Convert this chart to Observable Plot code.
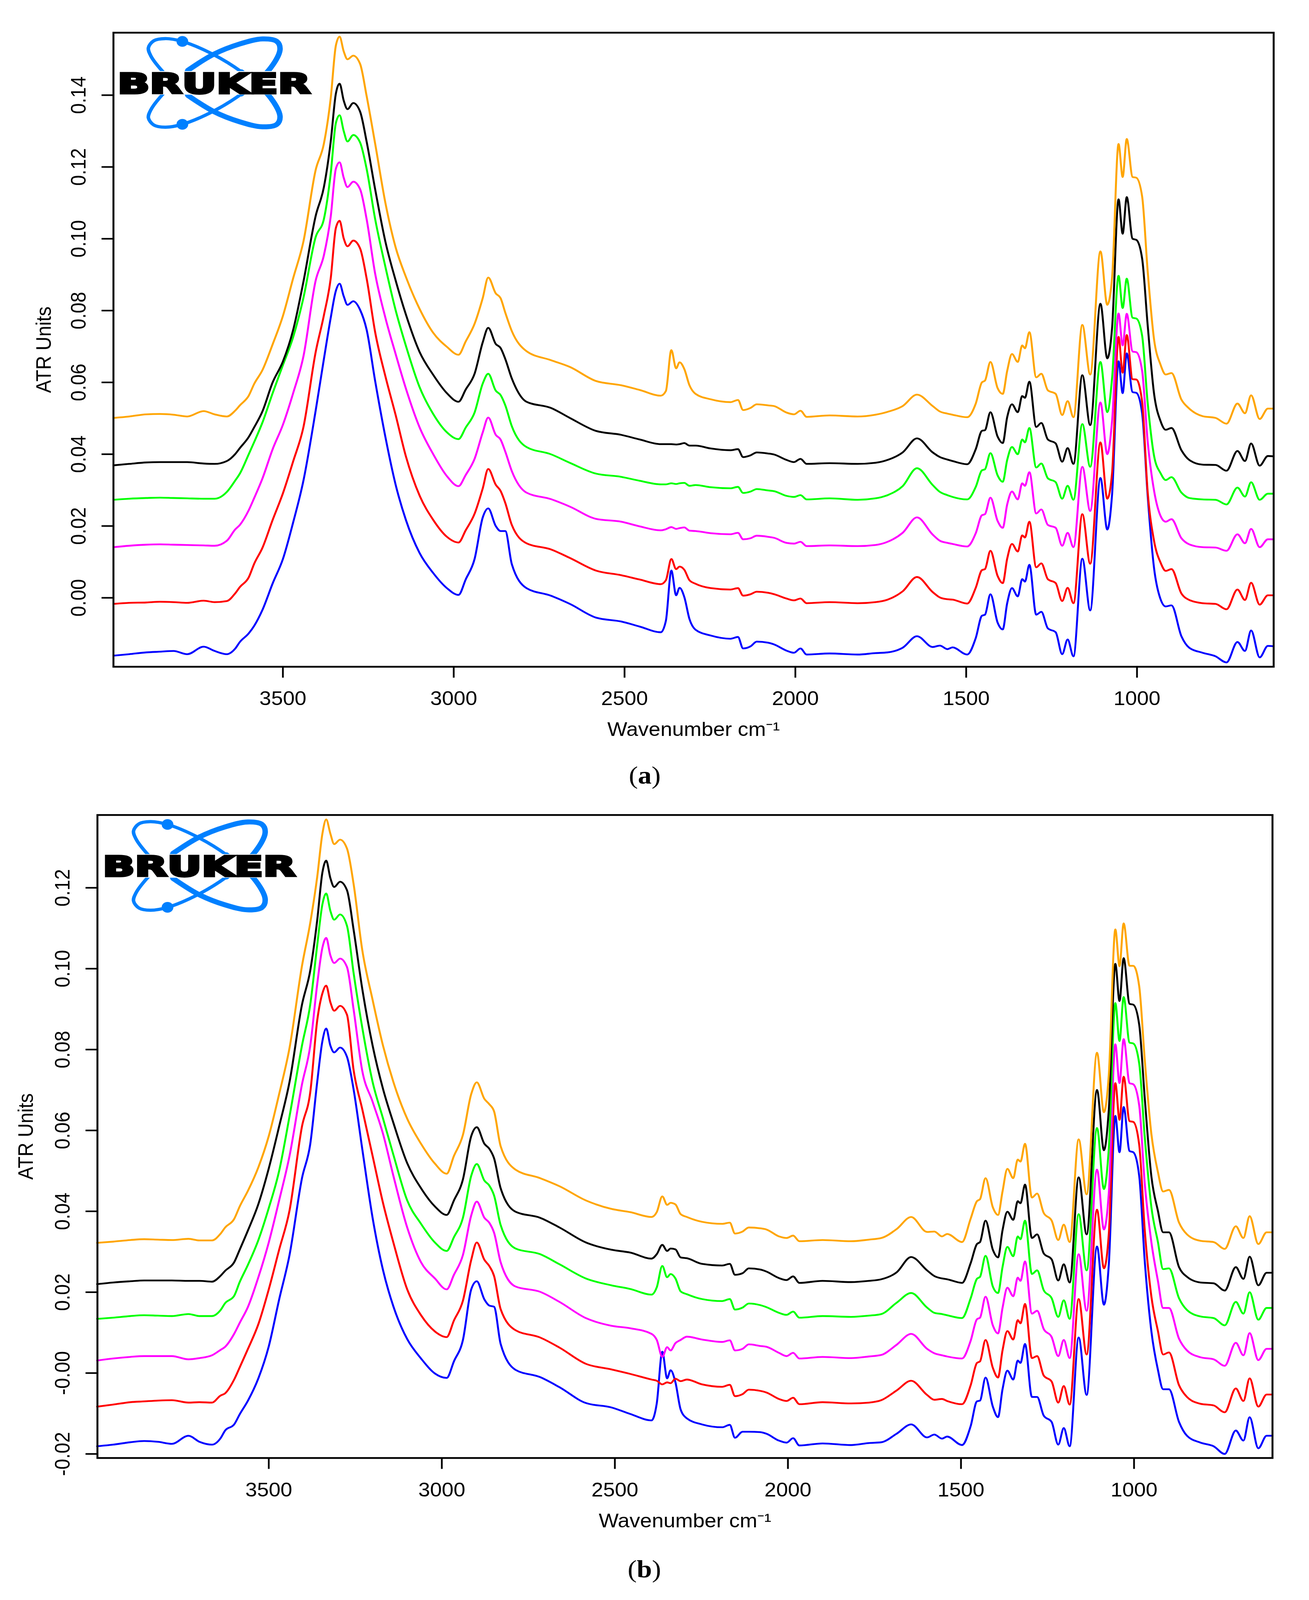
<!DOCTYPE html>
<html><head><meta charset="utf-8">
<script src="https://cdn.jsdelivr.net/npm/d3@7"></script>
<script src="https://cdn.jsdelivr.net/npm/@observablehq/plot@0.6"></script>
<style>
html,body{margin:0;padding:0;background:#fff;overflow:hidden}
#page{position:relative;width:3352px;height:4479px;overflow:hidden;background:#fff;transform-origin:0 0}
#page svg{display:block}
.panel{position:absolute;left:0}
.cap{position:absolute;font-family:"Liberation Serif",serif;font-size:70px;line-height:1;transform:translate(-50%,-50%);color:#000}
</style></head><body><div id="page"></div>
<script>
const wavenumbers=[3996,3950,3900,3860,3820,3780,3732,3700,3664,3640,3626,3600,3584,3560,3530,3500,3470,3440,3404,3380,3360,3345,3334,3322,3311,3294,3274,3255,3230,3200,3170,3140,3100,3060,3020,2986,2965,2939,2915,2899,2877,2863,2849,2830,2787,2716,2660,2584,
2510,2456,2394,2379,2363,2349,2339,2325,2310,2292,2248,2190,2168,2153,2131,2113,2080,2062,2026,2004,1985,1967,1900,1818,1766,1730,1686,1644,1598,1577,1555,1540,1497,
1472,1454,1445,1429,1408,1393,1380,1366,1349,1336,1328,1315,1295,1280,1261,1238,1219,1203,1186,1160,1137,1107,1087,1073,1054,1042,1030,1013,1002,985,969,950,931,916,899,870,847,808,770,738,706,684,666,641,617,600];

const aOrange=[.0501,.0505,.0511,.0512,.0510,.0505,.0520,.0511,.0505,.0521,.0536,.0563,.0596,.0634,.0706,.0785,.0890,.0992,.1192,.1265,.1392,.1538,.1563,.1522,.1500,.1510,.1487,.1398,.1265,.1100,.0976,.0894,.0805,.0738,.0699,.0677,.0714,.0763,.0835,.0892,.0848,.0835,.0794,.0743,.0687,.0662,.0643,.0604,
.0592,.0579,.0563,.0576,.0690,.0639,.0656,.0637,.0592,.0568,.0553,.0545,.0551,.0523,.0529,.0539,.0536,.0534,.0516,.0511,.0521,.0504,.0508,.0505,.0510,.0518,.0534,.0566,.0534,.0519,.0513,.0510,.0503,
.0541,.0600,.0605,.0657,.0584,.0568,.0632,.0679,.0657,.0703,.0695,.0740,.0614,.0624,.0578,.0568,.0509,.0548,.0503,.0760,.0622,.0965,.0816,.0891,.1264,.1172,.1278,.1172,.1170,.1118,.0913,.0719,.0649,.0622,.0626,.0552,.0527,.0506,.0501,.0485,.0541,.0514,.0564,.0498,.0527,.0527];
const aBlack=[.0369,.0373,.0377,.0378,.0378,.0378,.0374,.0373,.0381,.0400,.0417,.0448,.0475,.0519,.0600,.0658,.0746,.0880,.1064,.1144,.1271,.1404,.1432,.1385,.1361,.1378,.1354,.1271,.1138,.0992,.0884,.0789,.0685,.0621,.0570,.0546,.0580,.0624,.0712,.0752,.0707,.0696,.0665,.0611,.0546,.0529,.0501,.0465,
.0454,.0441,.0428,.0428,.0428,.0427,.0428,.0431,.0424,.0424,.0416,.0411,.0414,.0392,.0397,.0405,.0402,.0399,.0384,.0378,.0387,.0373,.0375,.0373,.0376,.0384,.0405,.0444,.0405,.0392,.0385,.0381,.0372,
.0414,.0465,.0467,.0517,.0449,.0431,.0503,.0539,.0517,.0562,.0557,.0602,.0476,.0487,.0441,.0430,.0379,.0417,.0373,.0620,.0481,.0819,.0667,.0751,.1110,.1014,.1116,.1000,.0997,.0945,.0762,.0568,.0492,.0468,.0473,.0411,.0384,.0371,.0370,.0354,.0409,.0381,.0430,.0368,.0395,.0394];
const aGreen=[.0273,.0276,.0278,.0279,.0278,.0277,.0276,.0276,.0295,.0326,.0346,.0400,.0434,.0488,.0570,.0648,.0726,.0835,.1005,.1055,.1182,.1322,.1344,.1300,.1271,.1289,.1268,.1195,.1055,.0922,.0801,.0702,.0587,.0512,.0461,.0442,.0474,.0516,.0597,.0624,.0577,.0565,.0536,.0478,.0420,.0400,.0376,.0346,
.0337,.0326,.0316,.0316,.0319,.0317,.0319,.0320,.0312,.0314,.0308,.0305,.0309,.0292,.0296,.0303,.0299,.0297,.0284,.0281,.0286,.0274,.0277,.0273,.0277,.0286,.0311,.0361,.0314,.0295,.0286,.0281,.0274,
.0309,.0355,.0358,.0403,.0341,.0323,.0384,.0420,.0400,.0441,.0433,.0473,.0363,.0374,.0333,.0322,.0276,.0312,.0273,.0484,.0365,.0657,.0517,.0611,.0897,.0807,.0889,.0780,.0778,.0730,.0546,.0395,.0347,.0328,.0336,.0293,.0278,.0274,.0273,.0260,.0307,.0282,.0322,.0273,.0290,.0290];
const aMagenta=[.0141,.0145,.0148,.0149,.0148,.0147,.0146,.0145,.0159,.0190,.0203,.0244,.0278,.0332,.0414,.0482,.0570,.0672,.0884,.0954,.1062,.1195,.1213,.1170,.1144,.1159,.1138,.1055,.0903,.0780,.0679,.0583,.0475,.0400,.0339,.0311,.0342,.0387,.0461,.0502,.0454,.0441,.0407,.0353,.0293,.0275,.0254,.0220,
.0212,.0199,.0188,.0191,.0197,.0192,.0194,.0196,.0187,.0186,.0180,.0177,.0181,.0163,.0166,.0173,.0170,.0167,.0153,.0151,.0156,.0144,.0146,.0144,.0147,.0156,.0181,.0224,.0176,.0159,.0153,.0150,.0143,
.0180,.0230,.0233,.0279,.0214,.0195,.0260,.0296,.0274,.0319,.0312,.0350,.0235,.0246,.0203,.0195,.0145,.0181,.0141,.0365,.0242,.0544,.0400,.0492,.0792,.0703,.0791,.0686,.0684,.0632,.0438,.0298,.0228,.0212,.0219,.0166,.0149,.0141,.0140,.0131,.0177,.0152,.0192,.0141,.0163,.0163];
const aRed=[-.0017,-.0014,-.0013,-.0011,-.0012,-.0014,-.0008,-.0012,-.0009,.0012,.0030,.0057,.0095,.0139,.0217,.0291,.0380,.0475,.0685,.0787,.0890,.1030,.1050,.1001,.0979,.0995,.0973,.0890,.0740,.0617,.0509,.0394,.0285,.0217,.0170,.0154,.0188,.0234,.0305,.0359,.0315,.0298,.0264,.0203,.0152,.0135,.0111,.0076,
.0063,.0051,.0038,.0049,.0108,.0080,.0087,.0078,.0049,.0039,.0027,.0023,.0027,.0006,.0010,.0017,.0014,.0010,-.0002,-.0007,-.0002,-.0015,-.0012,-.0015,-.0012,-.0005,.0018,.0058,.0016,.0001,-.0004,-.0005,-.0016,
.0028,.0077,.0080,.0131,.0061,.0041,.0109,.0150,.0129,.0174,.0168,.0212,.0085,.0096,.0052,.0041,-.0009,.0028,-.0015,.0233,.0095,.0433,.0276,.0347,.0727,.0627,.0732,.0609,.0608,.0546,.0298,.0158,.0098,.0075,.0080,.0012,-.0006,-.0015,-.0017,-.0032,.0023,-.0006,.0042,-.0019,.0007,.0007];
const aBlue=[-.0161,-.0157,-.0152,-.0150,-.0148,-.0157,-.0136,-.0148,-.0157,-.0142,-.0123,-.0099,-.0078,-.0034,.0040,.0108,.0210,.0326,.0522,.0665,.0780,.0855,.0875,.0840,.0816,.0826,.0802,.0747,.0604,.0448,.0315,.0217,.0125,.0069,.0027,.0008,.0051,.0108,.0224,.0249,.0200,.0186,.0186,.0094,.0027,.0006,-.0017,-.0055,
-.0066,-.0080,-.0096,-.0064,.0076,.0007,.0028,.0002,-.0059,-.0089,-.0105,-.0114,-.0109,-.0141,-.0135,-.0122,-.0125,-.0130,-.0147,-.0153,-.0141,-.0158,-.0155,-.0158,-.0154,-.0152,-.0139,-.0107,-.0137,-.0133,-.0143,-.0138,-.0158,
-.0112,-.0050,-.0047,.0010,-.0069,-.0088,-.0015,.0027,.0004,.0052,.0045,.0092,-.0047,-.0039,-.0085,-.0096,-.0157,-.0116,-.0163,.0109,-.0035,.0334,.0190,.0287,.0659,.0570,.0681,.0573,.0571,.0514,.0287,.0082,-.0004,-.0024,-.0021,-.0107,-.0139,-.0153,-.0163,-.0180,-.0123,-.0148,-.0091,-.0166,-.0134,-.0135];

const bOrange=[.0322,.0325,.0329,.0331,.0330,.0329,.0332,.0328,.0328,.0344,.0360,.0381,.0412,.0451,.0509,.0586,.0690,.0804,.1007,.1114,.1227,.1334,.1369,.1334,.1308,.1319,.1297,.1210,.1047,.0923,.0810,.0720,.0629,.0567,.0518,.0493,.0537,.0589,.0690,.0719,.0678,.0665,.0647,.0561,.0503,.0482,.0462,.0427,
.0406,.0398,.0386,.0398,.0437,.0416,.0421,.0417,.0393,.0386,.0374,.0369,.0372,.0345,.0350,.0360,.0358,.0355,.0338,.0334,.0340,.0326,.0329,.0326,.0330,.0334,.0356,.0386,.0349,.0350,.0338,.0344,.0324,
.0382,.0425,.0430,.0482,.0410,.0391,.0449,.0505,.0482,.0528,.0523,.0567,.0434,.0444,.0396,.0377,.0329,.0367,.0324,.0578,.0442,.0792,.0645,.0736,.1097,.1006,.1112,.1007,.1007,.0956,.0774,.0592,.0497,.0449,.0453,.0372,.0343,.0327,.0324,.0307,.0363,.0334,.0388,.0319,.0348,.0348];
const bBlack=[.0220,.0224,.0227,.0229,.0229,.0229,.0228,.0228,.0226,.0240,.0253,.0274,.0305,.0353,.0418,.0506,.0610,.0720,.0911,.0996,.1120,.1238,.1267,.1224,.1202,.1215,.1194,.1097,.0951,.0810,.0703,.0619,.0519,.0457,.0412,.0391,.0427,.0479,.0586,.0608,.0567,.0555,.0531,.0457,.0399,.0384,.0360,.0323,
.0305,.0298,.0283,.0294,.0317,.0302,.0308,.0306,.0286,.0284,.0270,.0266,.0270,.0243,.0247,.0259,.0256,.0251,.0235,.0230,.0239,.0223,.0228,.0225,.0228,.0232,.0249,.0287,.0254,.0240,.0234,.0232,.0223,
.0272,.0319,.0324,.0377,.0305,.0286,.0353,.0399,.0379,.0425,.0420,.0466,.0334,.0343,.0296,.0281,.0229,.0269,.0224,.0484,.0343,.0700,.0551,.0650,.1012,.0920,.1026,.0913,.0911,.0861,.0679,.0487,.0401,.0348,.0348,.0262,.0238,.0224,.0222,.0204,.0262,.0233,.0288,.0217,.0248,.0248];
const bGreen=[.0134,.0137,.0141,.0143,.0142,.0141,.0146,.0141,.0141,.0155,.0173,.0191,.0225,.0268,.0329,.0408,.0500,.0635,.0810,.0912,.1058,.1159,.1186,.1143,.1121,.1134,.1106,.0990,.0855,.0720,.0630,.0540,.0427,.0369,.0323,.0302,.0336,.0384,.0488,.0517,.0476,.0464,.0439,.0366,.0308,.0294,.0269,.0234,
.0217,.0208,.0194,.0212,.0265,.0237,.0245,.0234,.0202,.0195,.0183,.0178,.0183,.0157,.0162,.0172,.0168,.0163,.0149,.0144,.0152,.0137,.0141,.0139,.0142,.0146,.0174,.0198,.0162,.0149,.0146,.0143,.0136,
.0185,.0233,.0238,.0290,.0214,.0198,.0262,.0312,.0289,.0338,.0331,.0377,.0245,.0254,.0205,.0185,.0139,.0180,.0134,.0393,.0254,.0606,.0455,.0554,.0915,.0821,.0930,.0817,.0815,.0765,.0583,.0411,.0324,.0257,.0259,.0185,.0156,.0140,.0136,.0118,.0176,.0147,.0200,.0132,.0161,.0161];
const bMagenta=[.0031,.0036,.0040,.0042,.0042,.0042,.0034,.0037,.0044,.0057,.0065,.0097,.0124,.0164,.0237,.0323,.0427,.0537,.0714,.0810,.0962,.1052,.1076,.1033,.1014,.1025,.1004,.0900,.0748,.0671,.0592,.0488,.0360,.0274,.0234,.0207,.0243,.0292,.0390,.0424,.0384,.0372,.0347,.0274,.0214,.0201,.0176,.0136,
.0117,.0111,.0097,.0082,.0040,.0064,.0056,.0074,.0082,.0090,.0083,.0077,.0081,.0056,.0060,.0071,.0067,.0065,.0050,.0042,.0050,.0036,.0040,.0037,.0041,.0045,.0070,.0097,.0060,.0049,.0044,.0041,.0036,
.0080,.0133,.0137,.0189,.0118,.0098,.0161,.0211,.0190,.0236,.0228,.0276,.0147,.0154,.0109,.0089,.0042,.0082,.0037,.0294,.0154,.0503,.0355,.0444,.0813,.0717,.0826,.0717,.0714,.0661,.0468,.0324,.0228,.0161,.0161,.0085,.0056,.0039,.0034,.0018,.0075,.0044,.0099,.0032,.0060,.0060];
const bRed=[-.0083,-.0078,-.0072,-.0070,-.0068,-.0067,-.0073,-.0072,-.0073,-.0056,-.0050,-.0016,.0014,.0060,.0121,.0207,.0305,.0402,.0610,.0695,.0872,.0939,.0958,.0917,.0896,.0908,.0886,.0750,.0653,.0537,.0421,.0323,.0207,.0143,.0103,.0089,.0130,.0179,.0280,.0323,.0280,.0265,.0240,.0158,.0106,.0088,.0063,.0023,
.0009,-.0002,-.0016,-.0019,-.0028,-.0023,-.0025,-.0014,-.0020,-.0016,-.0028,-.0034,-.0029,-.0057,-.0052,-.0041,-.0044,-.0048,-.0064,-.0069,-.0061,-.0077,-.0072,-.0075,-.0073,-.0067,-.0043,-.0019,-.0054,-.0066,-.0064,-.0069,-.0077,
-.0030,.0025,.0029,.0082,.0013,-.0011,.0056,.0104,.0083,.0131,.0123,.0171,.0037,.0042,-.0006,-.0021,-.0073,-.0032,-.0078,.0183,.0046,.0404,.0259,.0343,.0717,.0626,.0733,.0623,.0621,.0564,.0353,.0190,.0104,.0046,.0051,-.0030,-.0059,-.0076,-.0080,-.0097,-.0038,-.0069,-.0013,-.0083,-.0053,-.0053];
const bBlue=[-.0181,-.0177,-.0171,-.0168,-.0170,-.0175,-.0155,-.0170,-.0177,-.0162,-.0142,-.0127,-.0102,-.0068,-.0013,.0066,.0182,.0292,.0482,.0567,.0720,.0821,.0852,.0810,.0793,.0805,.0782,.0702,.0555,.0384,.0255,.0165,.0084,.0036,-.0001,-.0012,.0029,.0082,.0207,.0227,.0182,.0167,.0164,.0072,.0008,-.0010,-.0035,-.0074,
-.0085,-.0101,-.0117,-.0075,.0053,-.0013,.0007,-.0023,-.0090,-.0112,-.0127,-.0134,-.0128,-.0160,-.0145,-.0145,-.0146,-.0150,-.0167,-.0172,-.0161,-.0179,-.0174,-.0178,-.0173,-.0171,-.0150,-.0127,-.0159,-.0152,-.0162,-.0157,-.0178,
-.0131,-.0070,-.0068,-.0011,-.0083,-.0109,-.0040,.0006,-.0016,.0031,.0025,.0072,-.0059,-.0059,-.0105,-.0121,-.0177,-.0136,-.0181,.0088,-.0054,.0313,.0169,.0267,.0636,.0546,.0658,.0549,.0546,.0487,.0276,.0104,.0008,-.0040,-.0040,-.0121,-.0155,-.0172,-.0181,-.0200,-.0142,-.0167,-.0109,-.0186,-.0155,-.0155];

const xTicks=[3500,3000,2500,2000,1500,1000];
const aYTicks=[0,.02,.04,.06,.08,.10,.12,.14];
const aYLabels=["0.00","0.02","0.04","0.06","0.08","0.10","0.12","0.14"];
const bYTicks=[-.02,0,.02,.04,.06,.08,.10,.12];
const bYLabels=["-0.02","-0.00","0.02","0.04","0.06","0.08","0.10","0.12"];
const seriesColors=["blue","red","#FF00FF","#00FF00","black","#FFA500"];
const font='"Liberation Sans",Arial,sans-serif';

// The page is laid out at the reference's 4479 px and fitted to the window's real height.
const page=document.getElementById("page");
const fit=Math.min(1,(window.innerHeight||4479)/4479);
page.style.transform=`scaleY(${fit})`;
document.body.style.height=Math.round(4479*fit)+"px";

function panel(cfg){
  const marks=[];
  cfg.series.forEach((vals,i)=>{
    if(vals.length!==wavenumbers.length) throw new Error("length "+i+" "+vals.length);
    const rows=vals.map((v,j)=>({w:wavenumbers[j],v}));
    marks.push(Plot.line(rows,{x:"w",y:"v",stroke:seriesColors[i],strokeWidth:5,curve:"monotone-x"}));
  });
  marks.push(Plot.frame({stroke:"black",strokeWidth:5}));
  marks.push(Plot.axisX({ticks:xTicks,tickFormat:d=>String(d),tickSize:31,tickPadding:38,strokeWidth:4.5,fontSize:54,
    label:"Wavenumber cm⁻¹",labelAnchor:"center",labelArrow:"none",labelOffset:194,fontFamily:font}));
  marks.push(Plot.axisY({ticks:cfg.yTicks,tickFormat:d=>cfg.yLabels[cfg.yTicks.findIndex(t=>Math.abs(t-d)<1e-9)],
    tickSize:30,tickPadding:42,tickRotate:-90,strokeWidth:4.5,fontSize:54,
    label:"ATR Units",labelAnchor:"center",labelArrow:"none",labelOffset:cfg.labelOffset,fontFamily:font}));
  const p=Plot.plot({width:3352,height:cfg.height,marginTop:cfg.mt,marginBottom:cfg.mb,marginLeft:cfg.ml,marginRight:cfg.mr,
    style:{background:"#fff",fontFamily:font,fontSize:"54px",color:"#000"},
    x:{domain:[cfg.xmax,600],axis:null},y:{domain:cfg.ydom,axis:null},marks});
  const wrap=document.createElement("div");
  wrap.className="panel";wrap.style.top=cfg.top+"px";
  wrap.appendChild(p);
  page.appendChild(wrap);
}
panel({top:0,height:2200,mt:91,mb:334,ml:290,mr:91,xmax:3996,ydom:[-.0192,.1574],series:[aBlue,aRed,aMagenta,aGreen,aBlack,aOrange],yTicks:aYTicks,yLabels:aYLabels,labelOffset:199});
panel({top:2200,height:2279,mt:81,mb:398,ml:249,mr:94,xmax:3995,ydom:[-.021,.138],series:[bBlue,bRed,bMagenta,bGreen,bBlack,bOrange],yTicks:bYTicks,yLabels:bYLabels,labelOffset:204});

const orbitLoop=[[-168,-98],[-154,-118],[-125,-124],[-81,-116],[-1,-79],[70,-31],[140,35],[169,93],[161,116],[124,123],[66,109],[-1,80],[-67,35],[-133,-34],[-162,-76]];
const orbitHeavy=[[70,-31],[140,35],[169,93],[161,116],[124,123],[66,109],[-1,80],[-67,35]];
function logo(cx,cy){
  const ns="http://www.w3.org/2000/svg";
  const s=document.createElementNS(ns,"svg");
  s.setAttribute("width",560);s.setAttribute("height",300);
  s.style.cssText=`position:absolute;left:${cx-280}px;top:${cy-150}px;overflow:visible`;
  const loop=d3.line().curve(d3.curveCatmullRomClosed)(orbitLoop);
  const heavy=d3.line().curve(d3.curveCatmullRom)(orbitHeavy);
  const orbit=`<path d="${loop}" fill="none" stroke="#0080FF" stroke-width="9"/><path d="${heavy}" fill="none" stroke="#0080FF" stroke-width="14" stroke-linecap="round"/>`;
  s.innerHTML=`<g transform="translate(280,150)">
<g>${orbit}</g><g transform="scale(1,-1)">${orbit}</g>
<circle cx="-81" cy="-116" r="15" fill="#0080FF"/><circle cx="-81" cy="116" r="15" fill="#0080FF"/>
<rect x="-250" y="-33" width="494" height="66" fill="#fff"/>
<text x="-247" y="29" font-family="DejaVu Sans" font-weight="bold" font-size="78" fill="#000" stroke="#000" stroke-width="6" textLength="494" lengthAdjust="spacingAndGlyphs">BRUKER</text></g>`;
  page.appendChild(s);
}
logo(548,232);
logo(510,2424);

function caption(letter,x,y){
  const d=document.createElement("div");d.className="cap";d.style.left=x+"px";d.style.top=y+"px";
  d.innerHTML=`(<b>${letter}</b>)`;page.appendChild(d);
}
caption("a",1651,2171);caption("b",1650,4393);
</script></body></html>
